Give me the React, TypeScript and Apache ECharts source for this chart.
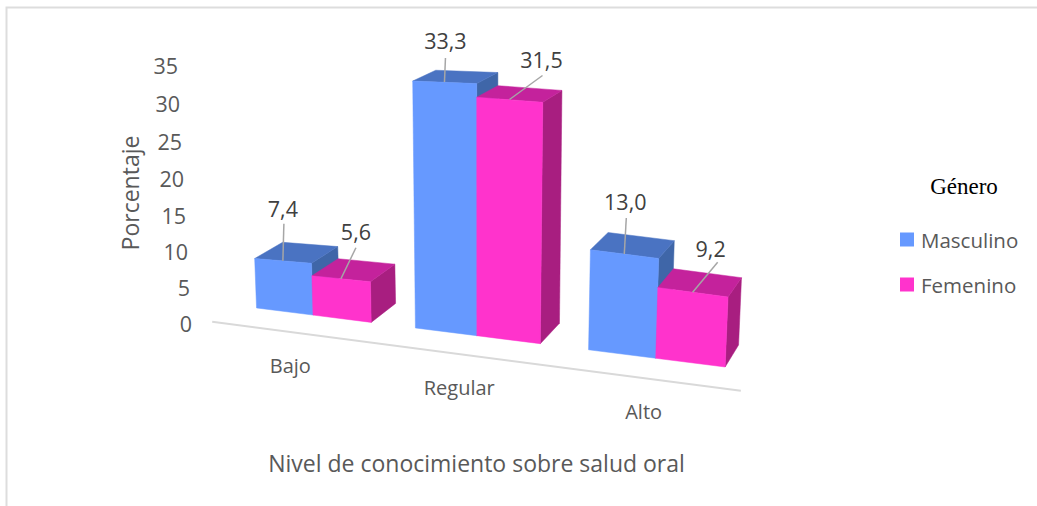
import React, { useEffect, useRef } from "react";
import * as echarts from "echarts";

const categories = ["Bajo", "Regular", "Alto"];
const masculino = [7.4, 33.3, 13.0];
const femenino = [5.6, 31.5, 9.2];
const yTicks = [0, 5, 10, 15, 20, 25, 30, 35];
const FONT = "Open Sans";
const INK = "#595959";

// leader line end and text centre, relative to the middle of the bar's top front edge
const leaderMasc = [[1, -37], [1, -24], [2, -36]];
const leaderFem = [[15, -31], [33, -24], [25, -30]];
const textMasc = [[-1, -15], [0, -18], [-1, -16]];
const textFem = [[0, -16], [-1, -16], [-7, -14]];

function projector(api: any) {
  const zero = api.coord([0, 0]);
  const band = api.size([1, 0])[0];
  return (a: number, v: number, d: number) => {
    const x0 = zero[0] + (band * a) / (1 - 0.0419 * a);
    const scale = (7 + 0.8 * a - 0.23 * a * a) / 7.314;
    const h = (zero[1] - api.coord([0, v])[1]) * scale;
    const xf = x0 + (x0 - 480) * 0.00017 * h;
    const yf = zero[1] - 13 + 0.126 * (x0 - 257) - h;
    const dx = (28 - 0.031 * (x0 - 255)) * d;
    const dy = -(19 + 0.0085 * (x0 - 372)) * (1 - 0.0133 * v) * d;
    return [xf + dx, yf + dy];
  };
}

function barSeries(
  name: string,
  values: number[],
  side: number,
  front: string,
  top: string,
  right: string,
  leader: number[][],
  text: number[][],
) {
  const halfGap = 0.365;
  return {
    type: "custom",
    name,
    itemStyle: { color: front },
    encode: { x: 0, y: 1 },
    data: values.map((v, i) => [i, v]),
    renderItem: (params: any, api: any) => {
      const i = api.value(0);
      const v = api.value(1);
      const p = projector(api);
      const a0 = side < 0 ? i - halfGap : i;
      const a1 = side < 0 ? i : i + halfGap;
      const poly = (pts: number[][], fill: string) => ({
        type: "polygon",
        shape: { points: pts },
        style: { fill, stroke: fill, lineWidth: 0.5 },
      });
      const mid = p((a0 + a1) / 2, v, 0);
      const end = [mid[0] + leader[i][0], mid[1] + leader[i][1]];
      return {
        type: "group",
        children: [
          poly([p(a1, 0, 0), p(a1, v, 0), p(a1, v, 1), p(a1, 0, 1)], right),
          poly([p(a0, v, 0), p(a1, v, 0), p(a1, v, 1), p(a0, v, 1)], top),
          poly([p(a0, 0, 0), p(a1, 0, 0), p(a1, v, 0), p(a0, v, 0)], front),
          {
            type: "line",
            shape: { x1: mid[0], y1: mid[1], x2: end[0], y2: end[1] },
            style: { stroke: "#a6a6a6", lineWidth: 1.5 },
          },
          {
            type: "text",
            style: {
              x: end[0] + text[i][0],
              y: end[1] + text[i][1],
              text: v.toFixed(1).replace(".", ","),
              fill: "#404040",
              fontFamily: FONT,
              fontSize: 21.5,
              align: "center",
              verticalAlign: "middle",
            },
          },
        ],
      };
    },
  };
}

export default function App() {
  const ref = useRef<HTMLDivElement>(null);
  useEffect(() => {
    const chart = echarts.init(ref.current!, null, { renderer: "svg" });
    chart.setOption({
      animation: false,
      backgroundColor: "#ffffff",
      grid: { left: 234.5, width: 471, top: 65, height: 256 },
      legend: {
        orient: "vertical",
        left: 900,
        top: 229,
        itemWidth: 14,
        itemHeight: 14,
        itemGap: 24,
        padding: 0,
        icon: "rect",
        data: ["Masculino", "Femenino"],
        textStyle: { fontFamily: FONT, fontSize: 20.5, color: INK, padding: [0, 0, 0, 2] },
      },
      xAxis: {
        type: "category",
        data: categories,
        axisLine: { show: false },
        axisTick: { show: false },
        axisLabel: { show: false },
        name: "Nivel de conocimiento sobre salud oral",
        nameLocation: "middle",
        nameGap: 142,
        nameTextStyle: { fontFamily: FONT, fontSize: 23, color: INK, padding: [0, 0, 0, 13], verticalAlign: "middle" },
      },
      yAxis: {
        type: "value",
        min: 0,
        max: 35,
        interval: 5,
        splitLine: { show: false },
        axisLine: { show: false },
        axisTick: { show: false },
        axisLabel: { show: false },
        name: "Porcentaje",
        nameLocation: "middle",
        nameRotate: 90,
        nameGap: 105,
        nameTextStyle: { fontFamily: FONT, fontSize: 23, color: INK, verticalAlign: "middle" },
      },
      graphic: [
        {
          type: "polyline",
          shape: { points: [[6.5, 506], [6.5, 7.5], [1037, 7.5]] },
          style: { stroke: "#dddddd", lineWidth: 2, fill: "none" },
          silent: true,
        },
        {
          type: "text",
          style: {
            x: 964,
            y: 186,
            text: "Género",
            fill: "#000000",
            fontFamily: "Liberation Serif",
            fontSize: 23,
            align: "center",
            verticalAlign: "middle",
          },
        },
      ],
      series: [
        {
          type: "custom",
          name: "eje",
          encode: { x: 0, y: 1 },
          data: categories.map((c, i) => [i, 0]),
          z: 1,
          renderItem: (params: any, api: any) => {
            const i = api.value(0);
            const p = projector(api);
            const pos = p(i, 0, -1);
            const children: any[] = [
              {
                type: "text",
                style: {
                  x: pos[0] + 3.5,
                  y: pos[1] + 32,
                  text: categories[i],
                  fill: INK,
                  fontFamily: FONT,
                  fontSize: 20,
                  align: "center",
                  verticalAlign: "middle",
                },
              },
            ];
            if (i === 0) {
              const s = p(-0.47, 0, -1);
              const e = p(2.51, 0, -1);
              children.push({
                type: "line",
                shape: { x1: s[0], y1: s[1] - 2, x2: e[0], y2: e[1] - 2 },
                style: { stroke: "#d9d9d9", lineWidth: 2 },
              });
            }
            return { type: "group", children };
          },
        },
        {
          type: "custom",
          name: "escala",
          encode: { x: 0, y: 1 },
          data: yTicks.map((t) => [0, t]),
          z: 1,
          renderItem: (params: any, api: any) => {
            const t = api.value(1);
            const f = t / 35;
            const c = api.coord([0, t]);
            return {
              type: "text",
              style: {
                x: 192 - 14 * f,
                y: c[1] + 12 * f * (1 - f) + 2 * (1 - f),
                text: String(t),
                fill: INK,
                fontFamily: FONT,
                fontSize: 21.5,
                align: "right",
                verticalAlign: "middle",
              },
            };
          },
        },
        barSeries("Masculino", masculino, -1, "#6699ff", "#4a73c2", "#3f66a8", leaderMasc, textMasc),
        barSeries("Femenino", femenino, 1, "#ff33cc", "#c4229c", "#a81e80", leaderFem, textFem),
      ],
    });
    return () => chart.dispose();
  }, []);
  return (
    <div
      ref={ref}
      style={{ position: "absolute", left: 0, top: 0, width: 1037, height: 506 }}
    />
  );
}
